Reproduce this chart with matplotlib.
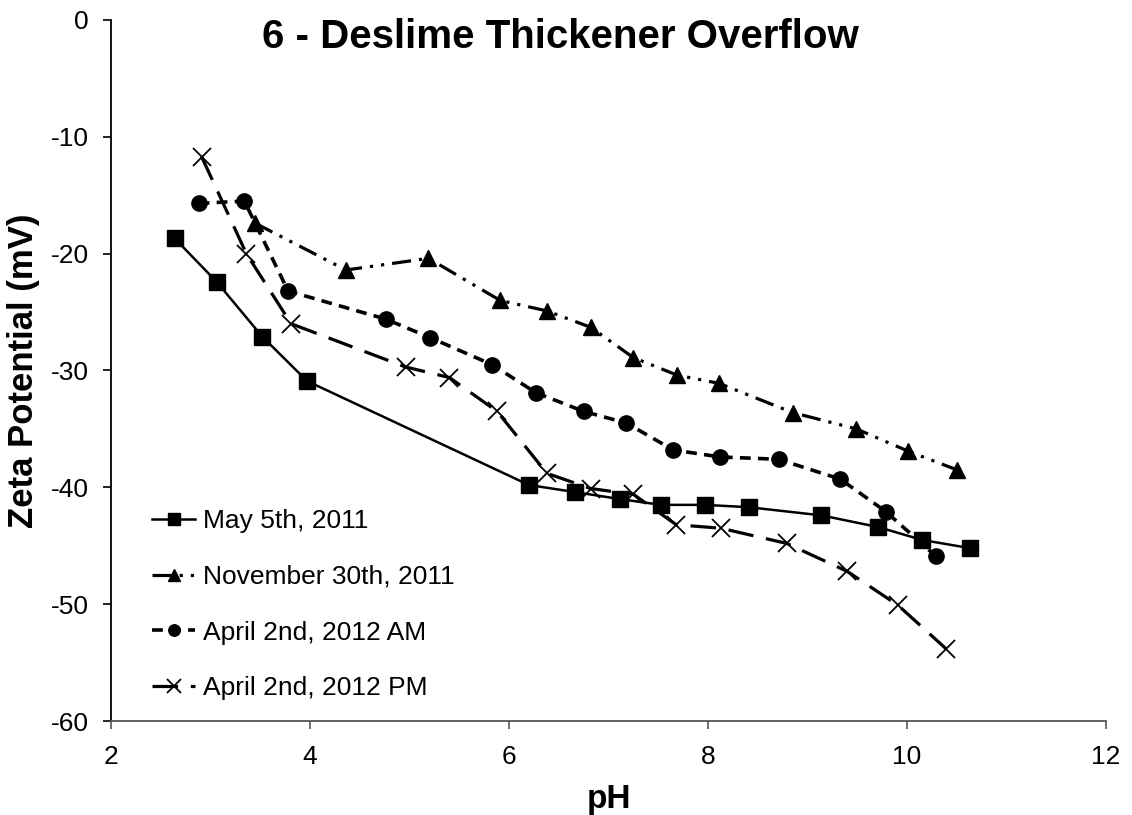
import matplotlib
matplotlib.use("Agg")
import matplotlib.pyplot as plt

plt.rcParams['font.family'] = ['Liberation Sans', 'DejaVu Sans']
plt.rcParams['axes.unicode_minus'] = False

# Data
may_ph = [2.64, 3.06, 3.52, 3.97, 6.20, 6.66, 7.11, 7.53, 7.97, 8.41, 9.14, 9.71, 10.15, 10.63]
may_zp = [-18.7, -22.4, -27.1, -30.9, -39.8, -40.4, -41.0, -41.5, -41.5, -41.7, -42.4, -43.4, -44.5, -45.2]

nov_ph = [3.45, 4.36, 5.19, 5.91, 6.38, 6.82, 7.25, 7.69, 8.11, 8.85, 9.49, 10.01, 10.50]
nov_zp = [-17.4, -21.4, -20.4, -24.0, -24.9, -26.3, -28.9, -30.4, -31.1, -33.6, -35.0, -36.9, -38.5]

am_ph = [2.88, 3.34, 3.78, 4.76, 5.21, 5.83, 6.27, 6.75, 7.18, 7.65, 8.12, 8.71, 9.33, 9.79, 10.29]
am_zp = [-15.7, -15.5, -23.2, -25.6, -27.2, -29.5, -31.9, -33.5, -34.5, -36.8, -37.4, -37.6, -39.3, -42.1, -45.9]

pm_ph = [2.91, 3.36, 3.81, 4.96, 5.40, 5.88, 6.38, 6.82, 7.25, 7.68, 8.13, 8.79, 9.40, 9.91, 10.39]
pm_zp = [-11.7, -20.0, -26.0, -29.7, -30.6, -33.5, -38.8, -40.1, -40.6, -43.2, -43.5, -44.8, -47.2, -50.1, -53.8]

labels = ["May 5th, 2011", "November 30th, 2011", "April 2nd, 2012 AM", "April 2nd, 2012 PM"]
title = "6 - Deslime Thickener Overflow"
xticks = [2, 4, 6, 8, 10, 12]
yticks = [0, -10, -20, -30, -40, -50, -60]

fig = plt.figure(figsize=(11.32, 8.15), dpi=100)
ax = fig.add_axes([0.0981, 0.1153, 0.879, 0.8602])

ax.plot(may_ph, may_zp, color='black', lw=1.8, ls='-', marker='s', ms=11, label=labels[0])
ax.plot(nov_ph, nov_zp, color='black', lw=2.3, ls=(0, (6, 2.5, 1, 2.5, 1, 2.5)), marker='^', ms=11, label=labels[1])
ax.plot(am_ph, am_zp, color='black', lw=2.6, ls=(0, (3, 2)), marker='o', ms=11, label=labels[2])
ax.plot(pm_ph, pm_zp, color='black', lw=2.3, ls=(0, (8, 4)), marker='x', ms=13, mew=1.3, label=labels[3])

ax.set_xlim(2, 12)
ax.set_ylim(-60, 0)
ax.set_xticks(xticks)
ax.set_yticks(yticks)
ax.tick_params(axis='both', labelsize=19, direction='out', length=6, width=1.2, colors='black', pad=10)
ax.tick_params(axis='x', pad=11)
ax.spines['top'].set_visible(False)
ax.spines['right'].set_visible(False)
ax.spines['left'].set_linewidth(1.3)
ax.spines['bottom'].set_linewidth(1.3)
ax.spines['bottom'].set_color('#555555')
ax.tick_params(axis='x', color='#555555')

ax.set_xlabel("pH", fontsize=24, fontweight='bold', labelpad=11)
ax.set_ylabel("Zeta Potential (mV)", fontsize=25, fontweight='bold', labelpad=8)
fig.text(0.4947, 0.955, title, fontsize=29, fontweight='bold', ha='center', va='center')

leg = ax.legend(loc='upper left', bbox_to_anchor=(0.041, 0.302), frameon=False, fontsize=19,
                handlelength=1.65, handletextpad=0.3, labelspacing=1.2, markerscale=0.75,
                borderaxespad=0, borderpad=0)

fig.savefig("out.png", dpi=100)
